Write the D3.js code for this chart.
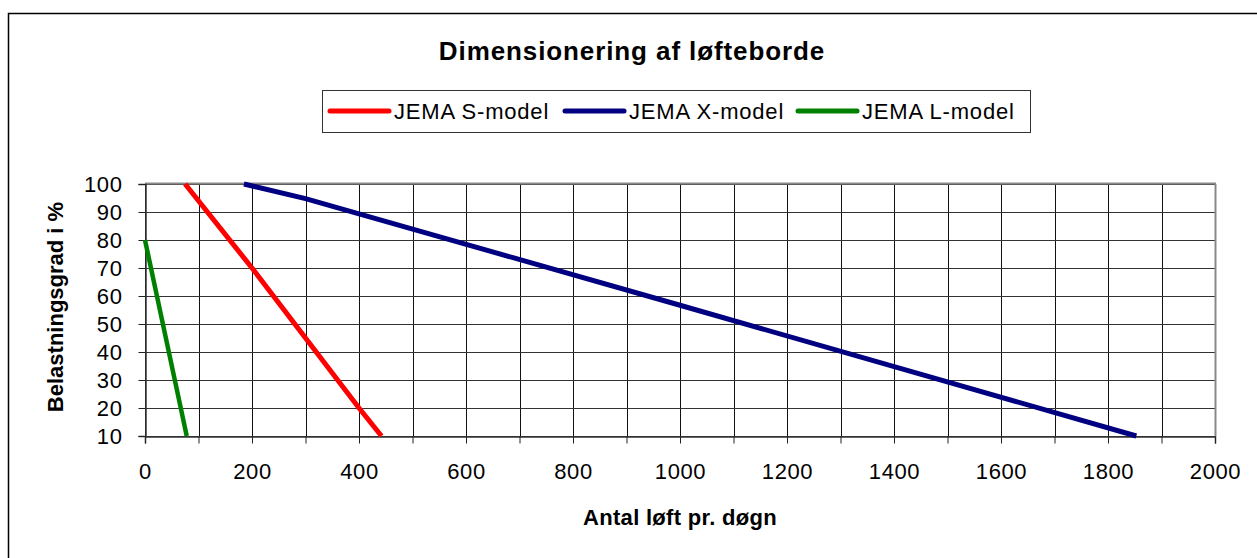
<!DOCTYPE html>
<html>
<head>
<meta charset="utf-8">
<script src="https://cdn.jsdelivr.net/npm/d3@7"></script>
<style>
  body { margin: 0; background: #fff; }
  svg { display: block; font-family: Arial, "Liberation Sans", sans-serif; }
</style>
</head>
<body>
<div id="chart"></div>
<script>
// == DATA == //
var seriesNames = ['JEMA S-model', 'JEMA X-model', 'JEMA L-model'];
var seriesColors = ['#ff0000', '#000080', '#008000'];
var sModelX = [75, 200, 300, 400, 442];
var sModelY = [100, 70, 45, 20, 10];
var xModelX = [185, 300, 1000, 1853];
var xModelY = [100, 94.8, 56.7, 10];
var lModelX = [0, 78];
var lModelY = [80, 10];
var xTickLabels = [0, 200, 400, 600, 800, 1000, 1200, 1400, 1600, 1800, 2000];
var xGridValues = d3.range(0, 2001, 100);
var yTickLabels = [10, 20, 30, 40, 50, 60, 70, 80, 90, 100];

var width = 1257, height = 558;
var plot = { left: 145, right: 1215, top: 184, bottom: 436 };

var svg = d3.select('#chart').append('svg')
    .attr('width', width)
    .attr('height', height);

// outer chart border (runs off the picture right/bottom)
svg.append('rect')
    .attr('x', 8.5).attr('y', 13.5)
    .attr('width', 1400).attr('height', 700)
    .attr('fill', '#fff')
    .attr('stroke', '#000')
    .attr('stroke-width', 1.5);

var x = d3.scaleLinear().domain([0, 2000]).range([plot.left, plot.right]);
var y = d3.scaleLinear().domain([10, 100]).range([plot.bottom, plot.top]);

// grid
var grid = svg.append('g');
grid.selectAll('line.v').data(xGridValues).enter().append('line')
    .attr('x1', function (d) { return Math.round(x(d)) + 0.5; })
    .attr('x2', function (d) { return Math.round(x(d)) + 0.5; })
    .attr('y1', plot.top).attr('y2', plot.bottom)
    .attr('stroke', '#111').attr('stroke-width', 1);
grid.selectAll('line.h').data(yTickLabels).enter().append('line')
    .attr('y1', function (d) { return Math.round(y(d)) + 0.5; })
    .attr('y2', function (d) { return Math.round(y(d)) + 0.5; })
    .attr('x1', plot.left).attr('x2', plot.right)
    .attr('stroke', '#333').attr('stroke-width', 1);

// plot border top / right in gray
svg.append('line')
    .attr('x1', plot.left).attr('x2', plot.right + 1)
    .attr('y1', plot.top - 0.5).attr('y2', plot.top - 0.5)
    .attr('stroke', '#888').attr('stroke-width', 2);
svg.append('line')
    .attr('x1', plot.right + 0.5).attr('x2', plot.right + 0.5)
    .attr('y1', plot.top).attr('y2', plot.bottom)
    .attr('stroke', '#888').attr('stroke-width', 2);

// axes
var xAxis = d3.axisBottom(x)
    .tickValues(xGridValues)
    .tickSize(7)
    .tickFormat(function (d) { return xTickLabels.indexOf(d) >= 0 ? d : ''; });
var gx = svg.append('g')
    .attr('transform', 'translate(0,' + (plot.bottom + 0.5) + ')')
    .call(xAxis);
gx.select('.domain').attr('stroke', '#333').attr('stroke-width', 1.5);
gx.selectAll('.tick line').attr('stroke', '#222');
gx.selectAll('.tick text')
    .attr('y', 27)
    .attr('fill', '#000')
    .style('font-size', '22px')
    .style('letter-spacing', '0.6px');

var yAxis = d3.axisLeft(y)
    .tickValues(yTickLabels)
    .tickSize(7)
    .tickPadding(16);
var gy = svg.append('g')
    .attr('transform', 'translate(' + (plot.left + 0.5) + ',0)')
    .call(yAxis);
gy.select('.domain').attr('stroke', '#333').attr('stroke-width', 1.5);
gy.selectAll('.tick line').attr('stroke', '#222');
gy.selectAll('.tick text')
    .attr('fill', '#000')
    .style('font-size', '22px')
    .style('letter-spacing', '0.6px');

// series lines
var line = d3.line()
    .x(function (d) { return x(d[0]); })
    .y(function (d) { return y(d[1]); });
var series = [
    d3.zip(sModelX, sModelY),
    d3.zip(xModelX, xModelY),
    d3.zip(lModelX, lModelY)
];
svg.append('g').selectAll('path').data(series).enter().append('path')
    .attr('d', line)
    .attr('fill', 'none')
    .attr('stroke', function (d, i) { return seriesColors[i]; })
    .attr('stroke-width', function (d, i) { return i === 2 ? 4.5 : 5; });

// title
svg.append('text')
    .attr('x', 632).attr('y', 60)
    .attr('text-anchor', 'middle')
    .style('font-size', '26px')
    .style('font-weight', 'bold')
    .style('letter-spacing', '0.9px')
    .text('Dimensionering af løfteborde');

// axis titles
svg.append('text')
    .attr('x', 680).attr('y', 525)
    .attr('text-anchor', 'middle')
    .style('font-size', '22px')
    .style('font-weight', 'bold')
    .style('letter-spacing', '0.3px')
    .text('Antal løft pr. døgn');
svg.append('text')
    .attr('transform', 'translate(63,307) rotate(-90)')
    .attr('text-anchor', 'middle')
    .style('font-size', '22px')
    .style('font-weight', 'bold')
    .text('Belastningsgrad i %');

// legend
var legend = svg.append('g');
legend.append('rect')
    .attr('x', 322.5).attr('y', 90.5)
    .attr('width', 708).attr('height', 42)
    .attr('fill', '#fff')
    .attr('stroke', '#333')
    .attr('stroke-width', 1);
var legendX = [330, 565, 798];
legend.selectAll('g.item').data(seriesNames).enter().append('g')
    .attr('class', 'item')
    .each(function (d, i) {
        var g = d3.select(this);
        g.append('line')
            .attr('x1', legendX[i]).attr('x2', legendX[i] + 59)
            .attr('y1', 111).attr('y2', 111)
            .attr('stroke', seriesColors[i])
            .attr('stroke-width', 5)
            .attr('stroke-linecap', 'round');
        g.append('text')
            .attr('x', legendX[i] + 64).attr('y', 119)
            .style('font-size', '22px')
            .style('letter-spacing', '0.8px')
            .text(d);
    });
</script>
</body>
</html>
